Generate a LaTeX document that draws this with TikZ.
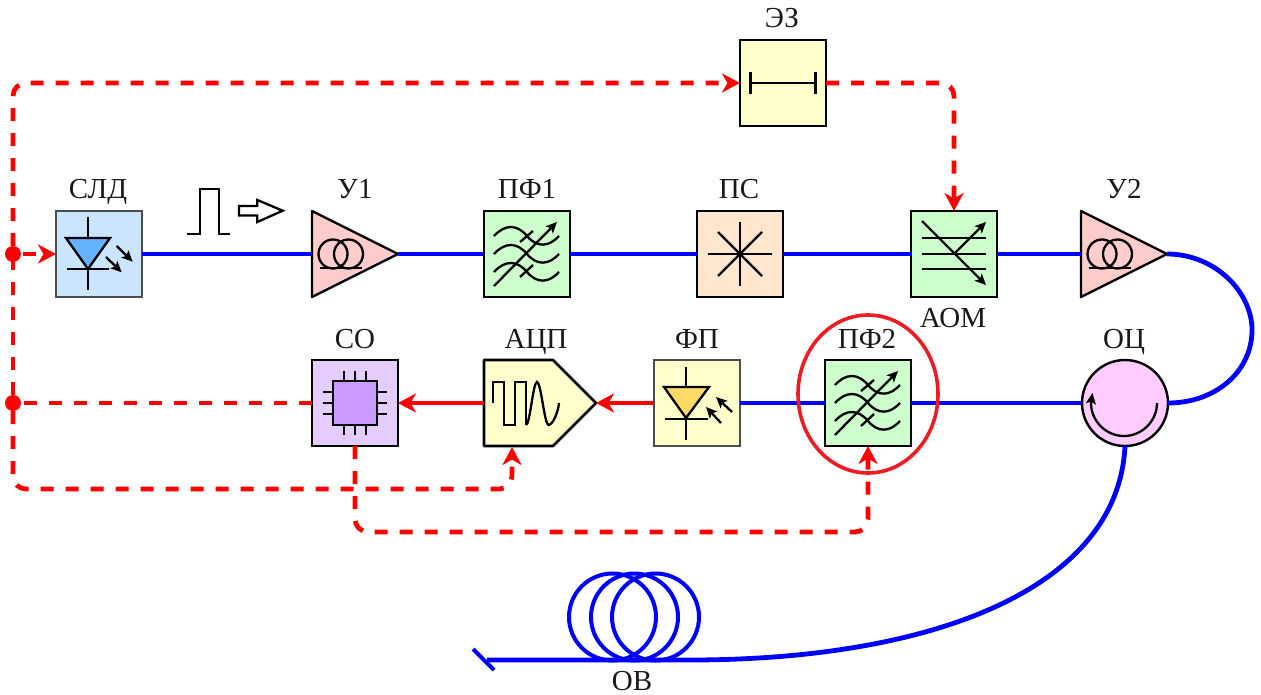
\documentclass[tikz,border=0pt]{standalone}
\usepackage{fontspec}
\setmainfont{Liberation Serif}
\usetikzlibrary{arrows.meta,shapes.geometric,shapes.symbols}
\definecolor{fiber}{HTML}{0000FF}
\definecolor{ctrl}{HTML}{FF0000}
\definecolor{ringred}{HTML}{ED1C24}
\definecolor{edgegray}{HTML}{4D4D4D}
\definecolor{cblue}{HTML}{CCE5FF}
\definecolor{dblue}{HTML}{66B2FF}
\definecolor{cpink}{HTML}{FFCCCC}
\definecolor{cgreen}{HTML}{CCFFCC}
\definecolor{corange}{HTML}{FFE6CC}
\definecolor{cyellow}{HTML}{FFFFCC}
\definecolor{dyellow}{HTML}{FFD966}
\definecolor{cviolet}{HTML}{E5CCFF}
\definecolor{dviolet}{HTML}{CC99FF}
\definecolor{cmag}{HTML}{FFCCFF}
\tikzset{
  x=1pt,y=-1pt,
  unit/.style={draw=black,line width=2.6pt,minimum size=86pt,inner sep=0pt,outer sep=0pt,fill=#1},
  grayunit/.style={unit=#1,draw=edgegray},
  amp/.style={draw=black,line width=2.4pt,fill=cpink,isosceles triangle,isosceles triangle apex angle=53.13,
    isosceles triangle stretches,minimum width=86pt,minimum height=86pt,inner sep=0pt,outer sep=0pt,anchor=west,line join=round},
  adcshape/.style={draw=black,line width=2.6pt,fill=cyellow,signal,signal to=east,signal pointer angle=90,
    minimum width=112pt,minimum height=86pt,inner sep=0pt,outer sep=0pt,anchor=west,line join=round},
  lab/.style={font=\fontsize{29}{29}\selectfont,anchor=base,inner sep=0pt,text=black!90},
  fib/.style={draw=fiber,line width=4.8pt},
  sol/.style={draw=ctrl,line width=4.8pt,-{Stealth[length=18pt,width=19pt,inset=5.5pt]}},
  dsh/.style={draw=ctrl,line width=4.8pt,dash pattern=on 13pt off 12pt,rounded corners=13pt},
  dsharrow/.style={dsh,-{Stealth[length=18pt,width=19pt,inset=5.5pt]}},
  ico/.style={draw=black,line width=2.3pt},
  icoarrow/.style={ico,-{Stealth[length=11pt,width=10pt,inset=2.5pt]}},
  dot/.style={circle,fill=ctrl,minimum size=16pt,inner sep=0pt,outer sep=0pt}
}
\newcommand{\wave}[1]{\draw[ico] (-33,#1) .. controls (-22,{#1-12}) and (-10,{#1-12}) .. (0,#1) .. controls (10,{#1+12}) and (22,{#1+11}) .. (32,#1);}
\newcommand{\filtericon}[1]{\begin{scope}[shift={(#1.center)}]
  \wave{-18}\wave{0}\wave{18}
  \draw[ico] (-7,-12) -- (6,-23);
  \draw[ico] (-7,23) -- (6,11);
  \draw[icoarrow] (-33,32) -- (30,-32);
\end{scope}}
\newcommand{\coilicon}[1]{\begin{scope}[shift={(#1.west)}]
  \draw[ico] (21,0) circle[radius=14.5pt];
  \draw[ico] (36.5,0) circle[radius=14.5pt];
  \draw[ico] (8,14) -- (50,14);
\end{scope}}
\begin{document}
\begin{tikzpicture}
\useasboundingbox (0,0) rectangle (1261,694);
% units
\node[grayunit=cblue] (sld) at (99,254) {};
\node[amp] (u1) at (312,254) {};
\node[unit=cgreen] (pf1) at (527,254) {};
\node[unit=corange] (ps) at (740,254) {};
\node[unit=cgreen] (aom) at (954,254) {};
\node[amp] (u2) at (1081,254) {};
\node[unit=cyellow] (ez) at (783,83) {};
\node[unit=cviolet] (co) at (355,403) {};
\node[adcshape] (adc) at (484,403) {};
\node[grayunit=cyellow] (fp) at (697,403) {};
\node[unit=cgreen] (pf2) at (868,403) {};
\node[circle,draw=black,line width=2.4pt,fill=cmag,minimum size=86pt,inner sep=0pt,outer sep=0pt] (oc) at (1125,403) {};
\node[dot] (da) at (13,254) {};
\node[dot] (db) at (13,403) {};
\coordinate (fibend) at (487,660);
\coordinate (coilr) at (690,660);
\coordinate (adcin) at (512,447);
\coordinate (tl) at (13,83);
\coordinate (bl) at (13,489);
\coordinate (blr) at (512,489);
\coordinate (tr) at (954,83);
\coordinate (cob) at (355,532);
\coordinate (cobr) at (868,532);
\coordinate (ticka) at (473,649);
\coordinate (tickb) at (494,670);
% labels
\node[lab] (lsld) at (98,198) {СЛД};
\node[lab] (lu1) at (355,198) {У1};
\node[lab] (lpf1) at (527,198) {ПФ1};
\node[lab] (lps) at (739,198) {ПС};
\node[lab] (lu2) at (1124,198) {У2};
\node[lab] (lez) at (782,27) {ЭЗ};
\node[lab] (laom) at (953,327) {АОМ};
\node[lab] (lco) at (355,348) {СО};
\node[lab] (ladc) at (536,348) {АЦП};
\node[lab] (lfp) at (697,348) {ФП};
\node[lab] (lpf2) at (867,348) {ПФ2};
\node[lab] (loc) at (1124,348) {ОЦ};
\node[lab] (lob) at (632,690) {ОВ};
% fibre
\draw[fib] (sld.east) -- (u1.west);
\draw[fib] (u1.apex) -- (pf1.west);
\draw[fib] (pf1.east) -- (ps.west);
\draw[fib] (ps.east) -- (aom.west);
\draw[fib] (aom.east) -- (u2.west);
\draw[fib] (u2.apex) .. controls (1215,254) and (1252,292) .. (1252,330) .. controls (1252,372) and (1215,403) .. (oc.east);
\draw[fib] (oc.west) -- (pf2.east);
\draw[fib] (pf2.west) -- (fp.east);
\draw[fib] (oc.south) .. controls (1118,590) and (930,660) .. (coilr) -- (fibend);
\draw[fib,line width=4pt] (ticka) -- (tickb);
\draw[fib,line width=4pt] (612.5,617) circle[radius=43.5pt];
\draw[fib,line width=4pt] (634.5,617) circle[radius=43.5pt];
\draw[fib,line width=4pt] (655.5,617) circle[radius=43.5pt];
% control lines
\draw[sol] (adc.west) -- (co.east);
\draw[sol] (fp.west) -- (adc.east);
\draw[dsharrow,shorten <=2pt] (da.east) -- (sld.west);
\draw[dsh] (co.west) -- (db.east);
\draw[dsh] (db.north) -- (da.south);
\draw[dsharrow] (da.north) -- (tl) -- (ez.west);
\draw[dsharrow] (db.south) -- (bl) -- (blr) -- (adcin);
\draw[dsharrow] (ez.east) -- (tr) -- (aom.north);
\draw[dsharrow] (co.south) -- (cob) -- (cobr) -- (pf2.south);
\node[draw=ringred,line width=3.6pt,ellipse,minimum width=140pt,minimum height=158pt,inner sep=0pt] (ring) at (868,394) {};
% pulse
\draw[ico] (187.3,234) -- (200,234) -- (200,189) -- (219,189) -- (219,234) -- (230,234);
\draw[ico,fill=white] (239,206) -- (257.3,206) -- (257.3,200) -- (282.7,210.7) -- (257.3,222) -- (257.3,215.5) -- (239,215.5) -- cycle;
% SLD icon
\begin{scope}[shift={(sld.center)}]
  \draw[ico] (-11,-37) -- (-11,-16);
  \draw[ico,fill=dblue] (-33,-16) -- (11,-16) -- (-11,15) -- cycle;
  \draw[ico] (-32,15) -- (10,15);
  \draw[ico] (-11,15) -- (-11,36);
  \draw[icoarrow] (17.7,-8) -- (33.7,7.7);
  \draw[icoarrow] (7,3) -- (22.7,18.3);
\end{scope}
\coilicon{u1}
\coilicon{u2}
\filtericon{pf1}
\filtericon{pf2}
% splitter
\begin{scope}[shift={(ps.center)}]
  \draw[ico] (-32,0) -- (32,0);
  \draw[ico] (0,-32) -- (0,32);
  \draw[ico] (-22,-22) -- (22,22);
  \draw[ico] (-22,22) -- (22,-22);
\end{scope}
% AOM
\begin{scope}[shift={(aom.center)}]
  \draw[ico] (-32,-16) -- (32,-16);
  \draw[ico] (-32,0) -- (32,0);
  \draw[ico] (-32,15) -- (32,15);
  \draw[icoarrow] (-32,-33) -- (32,31);
  \draw[icoarrow] (0,0) -- (32,-32);
\end{scope}
% mirror
\begin{scope}[shift={(ez.center)}]
  \draw[ico] (-32.5,0) -- (32.5,0);
  \draw[ico,line width=3pt] (-32.5,-11) -- (-32.5,11);
  \draw[ico,line width=3pt] (32.5,-11) -- (32.5,11);
\end{scope}
% chip
\begin{scope}[shift={(co.center)}]
  \draw[ico,fill=dviolet] (-22,-22) rectangle (22,22);
  \foreach \p in {-11,0,11}{
    \draw[ico] (\p,-32) -- (\p,-22);
    \draw[ico] (\p,22) -- (\p,32);
    \draw[ico] (-32,\p) -- (-22,\p);
    \draw[ico] (22,\p) -- (32,\p);
  }
\end{scope}
% ADC
\begin{scope}[shift={(adc.west)}]
  \draw[ico,line join=miter] (9.3,0) -- (9.3,-21) -- (20.3,-21) -- (20.3,22) -- (31,22) -- (31,-21) -- (41.7,-21) -- (41.7,22);
  \draw[ico] (42,22) .. controls (46,22) and (49,-21) .. (53,-21) .. controls (57,-21) and (60.5,22) .. (64.5,22) .. controls (68.5,22) and (74,10) .. (75,0);
\end{scope}
% photodiode
\begin{scope}[shift={(fp.center)}]
  \draw[ico] (-11,-36) -- (-11,-16);
  \draw[ico,fill=dyellow] (-33,-16) -- (12,-16) -- (-11,15) -- cycle;
  \draw[ico] (-32,16) -- (11,16);
  \draw[ico] (-11,15) -- (-11,37);
  \draw[icoarrow] (35,9) -- (19,-6);
  \draw[icoarrow] (24,20) -- (9,4);
\end{scope}
% circulator
\begin{scope}[shift={(oc.center)}]
  \draw[icoarrow] (32,0) .. controls (32,18) and (17,33) .. (-1,33) .. controls (-19,33) and (-34,18) .. (-34,0) -- (-32.5,-10);
\end{scope}
\end{tikzpicture}
\end{document}
